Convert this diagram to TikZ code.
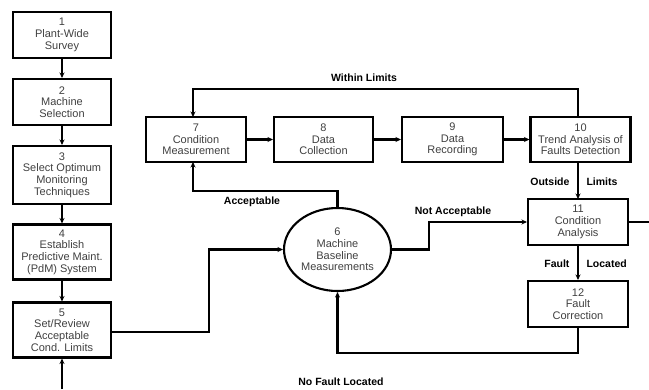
\documentclass[tikz,border=0pt]{standalone}
\usepackage{fontspec}
\setmainfont{Liberation Sans}
\usetikzlibrary{arrows.meta,shapes.geometric}
\begin{document}
\begin{tikzpicture}[x=1pt,y=-1pt,
  box/.style={draw,line width=2.1pt,minimum width=98pt,align=center,inner sep=0pt,
    font=\fontsize{11}{11.7}\selectfont,text=black!75},
  lbl/.style={font=\fontsize{10.5}{12}\selectfont\bfseries},
  conn/.style={line width=2.1pt,-{Stealth[length=5.5pt,width=5pt]}},
  plain/.style={line width=2.1pt}]
\useasboundingbox (0,0) rectangle (649,389);
% left column
\node[box,minimum height=46pt] (b1) at (62,35) {1\\Plant-Wide\\Survey};
\node[box,minimum height=46pt] (b2) at (62,102) {2\\Machine\\Selection};
\node[box,minimum height=58pt] (b3) at (62,175) {3\\Select Optimum\\Monitoring\\Techniques};
\node[box,minimum height=55pt] (b4) at (62,252) {4\\Establish\\Predictive Maint.\\(PdM) System};
\node[box,minimum height=55pt] (b5) at (62,330) {5\\Set/Review\\Acceptable\\Cond. Limits};
\coordinate (bot) at (62,389);
% top row
\node[box,minimum width=100pt,minimum height=45pt] (b7) at (196,139.5) {7\\Condition\\Measurement};
\node[box,minimum width=99pt,minimum height=45pt] (b8) at (323.5,139.5) {8\\Data\\Collection};
\node[box,minimum width=101pt,minimum height=45pt] (b9) at (452.5,139.5) {9\\Data\\Recording};
\node[box,minimum width=100pt,minimum height=45pt] (b10) at (580.5,139.5) {10\\Trend Analysis of\\Faults Detection};
% ellipse
\node[draw,ellipse,line width=2.1pt,minimum width=107pt,minimum height=83pt,inner sep=0pt,align=center,
  font=\fontsize{11}{11.7}\selectfont,text=black!75] (b6) at (337.5,249.5) {6\\Machine\\Baseline\\Measurements};
% right column
\node[box,minimum width=100pt,minimum height=46pt] (b11) at (578,222) {11\\Condition\\Analysis};
\node[box,minimum width=100pt,minimum height=46pt] (b12) at (578,304) {12\\Fault\\Correction};
\coordinate (rexit) at (649,222);
% connectors left column
\draw[conn] (b1) -- (b2);
\draw[conn] (b2) -- (b3);
\draw[conn] (b3) -- (b4);
\draw[conn] (b4) -- (b5);
\draw[conn] (bot) -- (b5);
% 5 -> 6
\draw[conn] (b5.east |- 0,332) -| (209,249.5) -- (b6.west);
% 6 -> 7
\draw[conn] (b6.north) |- (193,191) -- (193,162);
% top row
\draw[conn] (b7) -- (b8);
\draw[conn] (b8) -- (b9);
\draw[conn] (b9) -- (b10);
% 10 -> 7 within limits
\draw[conn] (578,117) -- (578,89) -| (193,117);
% 10 -> 11
\draw[conn] (578,162) -- (578,199);
% 6 -> 11
\draw[conn] (b6.east) -| (429,222) -- (b11.west);
% 11 -> 12
\draw[conn] (b11) -- (b12);
% 11 exit
\draw[plain] (b11.east) -- (rexit);
% 12 -> 6
\draw[conn] (b12.south) -- (578,353) -| (b6.south);
% labels
\node[lbl] (l1) at (364,78) {Within Limits};
\node[lbl] (l2) at (252,202) {Acceptable};
\node[lbl] (l3) at (453,212) {Not Acceptable};
\node[lbl,anchor=east] (l4) at (573,182) {Outside};
\node[lbl,anchor=west] (l5) at (583,182) {Limits};
\node[lbl,anchor=east] (l6) at (573,264) {Fault};
\node[lbl,anchor=west] (l7) at (583,264) {Located};
\node[lbl] (l8) at (341,382) {No Fault Located};
\end{tikzpicture}
\end{document}
